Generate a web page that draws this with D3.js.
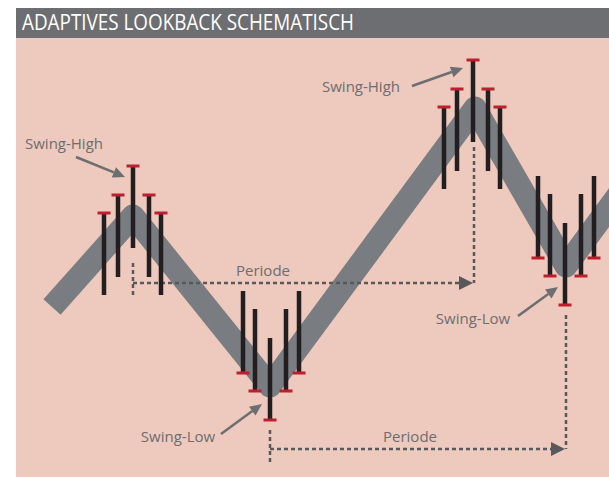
<!doctype html>
<html lang="en">
<head>
  <meta charset="utf-8">
  <style>
    body { margin: 0; background-color: white; }
    svg { display: block; }
    .label { font-family: "Open Sans", "Noto Sans", sans-serif; fill: #6d6e71; }
  </style>
</head>
<body>
<script src="https://d3js.org/d3.v7.min.js"></script>
<script>
var width = 609,
    height = 477;

var title = "ADAPTIVES LOOKBACK SCHEMATISCH";

// bar time positions and high/low prices, one array per swing group
var times = [
  [88, 102, 117, 133, 145],
  [227, 239, 254, 270, 283],
  [428, 441, 457, 472, 484],
  [522, 534, 549, 565, 578]
];
var highs = [
  [257, 275, 304, 275, 257],
  [179, 161, 132, 161, 179],
  [363, 381, 410, 381, 363],
  [294, 276, 247, 276, 294]
];
var lows = [
  [175, 193, 222, 193, 175],
  [97, 79, 50, 79, 97],
  [281, 299, 328, 299, 281],
  [212, 194, 165, 194, 212]
];
var swingType = ["high", "low", "high", "low"];
var swingLabels = ["Swing-High", "Swing-Low", "Swing-High", "Swing-Low"];

// schematic trend band
var trendT = [36, 117, 254, 459, 550, 620];
var trendP = [163, 254, 84, 362, 204, 299];

var periodLabel = "Periode";

var x = d3.scaleLinear().domain([0, 593]).range([16, 609]);
var y = d3.scaleLinear().domain([0, 430]).range([470, 40]);

var svg = d3.select("body").append("svg")
  .attr("width", width)
  .attr("height", height);

var defs = svg.append("defs");
defs.append("clipPath").attr("id", "panel")
  .append("rect").attr("x", 16).attr("y", 38).attr("width", 593).attr("height", 439);

svg.append("rect")
  .attr("x", 16).attr("y", 38).attr("width", 593).attr("height", 439)
  .attr("fill", "#eec9bd");

svg.append("rect")
  .attr("x", 16).attr("y", 8).attr("width", 593).attr("height", 30)
  .attr("fill", "#6d6e71");

svg.append("text")
  .attr("x", 22).attr("y", 30)
  .attr("font-family", "'Open Sans', 'Noto Sans', sans-serif")
  .attr("font-size", 21)
  .attr("textLength", 332)
  .attr("lengthAdjust", "spacingAndGlyphs")
  .attr("fill", "white")
  .text(title);

var g = svg.append("g").attr("clip-path", "url(#panel)");

// trend band
var line = d3.line().x(function(d) { return x(d[0]); }).y(function(d) { return y(d[1]); });
g.append("path")
  .datum(d3.zip(trendT, trendP))
  .attr("d", line)
  .attr("fill", "none")
  .attr("stroke", "#797d82")
  .attr("stroke-width", 23)
  .attr("stroke-linejoin", "round")
  .attr("stroke-linecap", "butt");

// period markers between swings of the same kind (center bar of each group)
function center(i) { return { t: times[i][2], hi: highs[i][2], lo: lows[i][2] }; }

function arrowHead(sel, tipX, tipY) {
  sel.append("path")
    .attr("d", "M" + tipX + "," + tipY + "L" + (tipX - 14) + "," + (tipY - 7) + "L" + (tipX - 14) + "," + (tipY + 7) + "Z")
    .attr("fill", "#58595b");
}

var periods = [[0, 2], [1, 3]];
periods.forEach(function(p, k) {
  var a = center(p[0]), b = center(p[1]);
  var pg = g.append("g")
    .attr("stroke", "#58595b")
    .attr("stroke-width", 2.5)
    .attr("stroke-dasharray", "4,3")
    .attr("fill", "none");
  var ax = x(a.t), bx = x(b.t);
  var yLine, aTop, aBot, bTop;
  if (k === 0) {
    yLine = y(a.lo) + 35;
    aTop = y(a.lo) + 15; aBot = yLine + 15;
    bTop = y(b.lo) + 5;
  } else {
    yLine = y(a.lo) + 29;
    aTop = y(a.lo) + 10; aBot = yLine + 16;
    bTop = y(b.lo) + 10;
  }
  pg.append("line").attr("x1", ax).attr("x2", ax).attr("y1", aTop).attr("y2", aBot);
  pg.append("line").attr("x1", ax).attr("x2", bx - 12).attr("y1", yLine).attr("y2", yLine);
  pg.append("line").attr("x1", bx + 1).attr("x2", bx + 1).attr("y1", bTop).attr("y2", yLine);
  arrowHead(g, bx, yLine);
  g.append("text").attr("class", "label")
    .attr("x", k === 0 ? 263 : 410)
    .attr("y", yLine - 7)
    .attr("text-anchor", "middle")
    .attr("font-size", 15)
    .text(periodLabel);
});

// candles
times.forEach(function(ts, i) {
  var grp = g.append("g");
  ts.forEach(function(t, j) {
    var cx = x(t);
    grp.append("rect")
      .attr("x", cx - 2.25).attr("width", 4.5)
      .attr("y", y(highs[i][j])).attr("height", y(lows[i][j]) - y(highs[i][j]))
      .attr("fill", "#231f20");
    var capY = swingType[i] === "high" ? y(highs[i][j]) : y(lows[i][j]);
    grp.append("rect")
      .attr("x", cx - 6.5).attr("width", 13)
      .attr("y", capY - 1.5).attr("height", 3)
      .attr("fill", "#be1e2d");
  });
});

// swing annotations: [tip dx, tip dy, start dx, start dy, text dx, text dy]
var annOffsets = [
  [-8, 11, -57, -9, -69, -17],
  [-8, -16, -49, 14, -92, 22],
  [-10, 8, -61, 26, -112, 32],
  [-7, -18, -47, 11, -92, 19]
];
swingLabels.forEach(function(lbl, i) {
  var c = center(i);
  var bx = x(c.t), by = swingType[i] === "high" ? y(c.hi) : y(c.lo);
  var o = annOffsets[i];
  var tx = bx + o[0], ty = by + o[1], sx = bx + o[2], sy = by + o[3];
  var ang = Math.atan2(ty - sy, tx - sx);
  var hl = 12, hw = 5.5;
  var baseX = tx - hl * Math.cos(ang), baseY = ty - hl * Math.sin(ang);
  g.append("line")
    .attr("x1", sx).attr("y1", sy).attr("x2", baseX).attr("y2", baseY)
    .attr("stroke", "#6d6e71").attr("stroke-width", 2.5);
  g.append("path")
    .attr("d", "M" + tx + "," + ty +
      "L" + (baseX - hw * Math.sin(ang)) + "," + (baseY + hw * Math.cos(ang)) +
      "L" + (baseX + hw * Math.sin(ang)) + "," + (baseY - hw * Math.cos(ang)) + "Z")
    .attr("fill", "#6d6e71");
  g.append("text").attr("class", "label")
    .attr("x", bx + o[4]).attr("y", by + o[5])
    .attr("text-anchor", "middle")
    .attr("font-size", 15)
    .text(lbl);
});
</script>
</body>
</html>
